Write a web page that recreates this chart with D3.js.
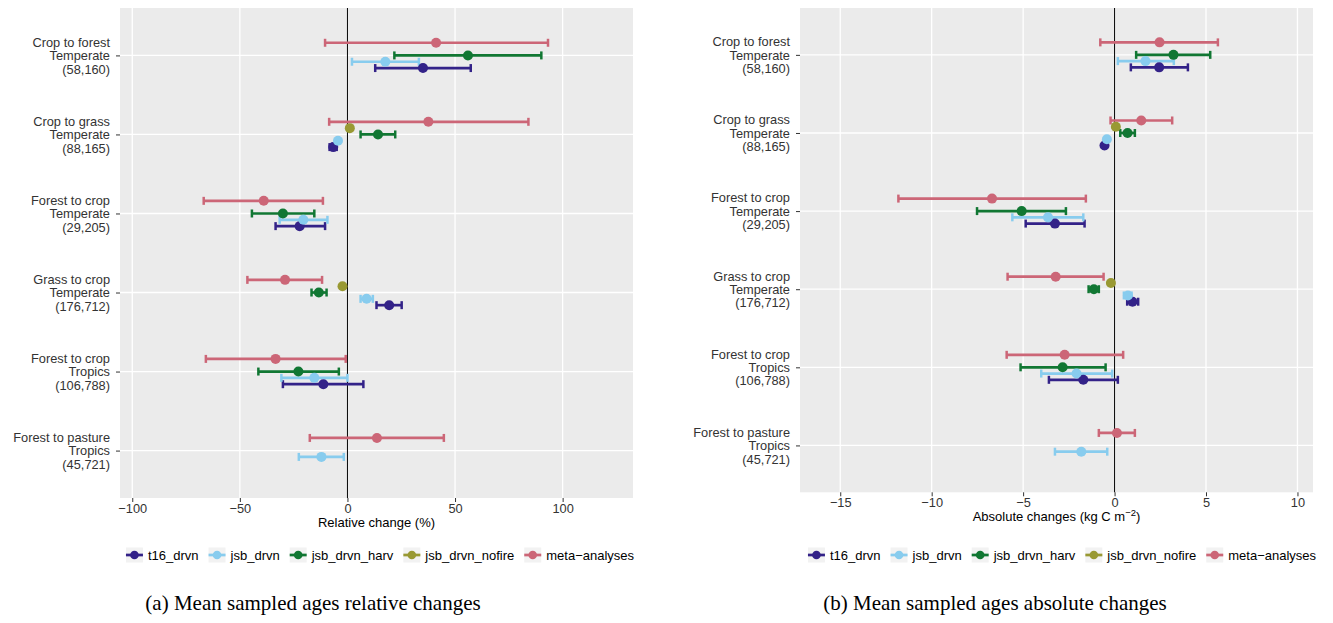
<!DOCTYPE html>
<html>
<head>
<meta charset="utf-8">
<script src="https://cdn.jsdelivr.net/npm/d3@7"></script>
<style>
  html, body { margin: 0; padding: 0; background: #fff; }
  svg { display: block; }
  text { font-family: "Liberation Sans", Arial, Helvetica, sans-serif; }
</style>
</head>
<body>
<svg id="chart" width="1333" height="623"></svg>
<script>
// ---------------- DATA ----------------
const categoryNames   = ["Crop to forest", "Crop to grass", "Forest to crop", "Grass to crop", "Forest to crop", "Forest to pasture"];
const categoryRegions = ["Temperate", "Temperate", "Temperate", "Temperate", "Tropics", "Tropics"];
const categoryCounts  = ["(58,160)", "(88,165)", "(29,205)", "(176,712)", "(106,788)", "(45,721)"];

const seriesNames  = ["t16_drvn", "jsb_drvn", "jsb_drvn_harv", "jsb_drvn_nofire", "meta-analyses"];
const seriesColors = ["#332288", "#88CCEE", "#117733", "#999933", "#CC6677"];

// Relative change (%)
const relT16Mean    = [35.1, -6.6, -22.2, 19.4, -11.2, null];
const relT16Lo      = [12.9, -8.3, -33.4, 13.5, -30.0, null];
const relT16Hi      = [57.3, -5.0, -10.4, 25.2, 7.4, null];
const relJsbMean    = [17.6, -4.4, -20.5, 8.9, -15.4, -12.1];
const relJsbLo      = [2.1, -4.4, -31.5, 6.1, -30.7, -22.6];
const relJsbHi      = [33.2, -4.4, -9.3, 11.8, 0.0, -1.7];
const relHarvMean   = [56.0, 14.2, -30.0, -13.3, -22.8, null];
const relHarvLo     = [21.8, 6.1, -44.4, -16.7, -41.4, null];
const relHarvHi     = [90.1, 22.2, -15.4, -9.7, -4.0, null];
const relNofireMean = [null, 1.1, null, -2.3, null, null];
const relMetaMean   = [41.2, 37.6, -38.9, -29.0, -33.4, 13.7];
const relMetaLo     = [-10.4, -8.5, -66.8, -46.5, -65.8, -17.5];
const relMetaHi     = [93.2, 84.1, -11.4, -11.8, -0.8, 44.8];

// Absolute changes (kg C m-2)
const absT16Mean    = [2.44, -0.55, -3.26, 0.98, -1.71, null];
const absT16Lo      = [0.89, -0.62, -4.86, 0.69, -3.59, null];
const absT16Hi      = [4.01, -0.48, -1.64, 1.29, 0.18, null];
const absJsbMean    = [1.69, -0.42, -3.64, 0.73, -2.08, -1.82];
const absJsbLo      = [0.18, -0.42, -5.59, 0.51, -4.01, -3.26];
const absJsbHi      = [3.24, -0.42, -1.71, 0.93, -0.13, -0.40];
const absHarvMean   = [3.22, 0.71, -5.08, -1.13, -2.84, null];
const absHarvLo     = [1.18, 0.31, -7.52, -1.42, -5.14, null];
const absHarvHi     = [5.23, 1.11, -2.66, -0.86, -0.49, null];
const absNofireMean = [null, 0.07, null, -0.20, null, null];
const absMetaMean   = [2.46, 1.46, -6.70, -3.22, -2.73, 0.13];
const absMetaLo     = [-0.78, -0.22, -11.82, -5.85, -5.90, -0.86];
const absMetaHi     = [5.65, 3.15, -1.57, -0.60, 0.47, 1.11];

const relTicks = [-100, -50, 0, 50, 100];
const absTicks = [-15, -10, -5, 0, 5, 10];

// ---------------- BUILD ----------------
function buildRows(means, los, his) {
  const rows = [];
  means.forEach((m, s) => {
    m.forEach((v, c) => {
      if (v === null) return;
      rows.push({
        series: seriesNames[s], color: seriesColors[s], cat: c,
        mean: v,
        lo: los[s] ? los[s][c] : null,
        hi: his[s] ? his[s][c] : null
      });
    });
  });
  return rows;
}

const relRows = buildRows(
  [relT16Mean, relJsbMean, relHarvMean, relNofireMean, relMetaMean],
  [relT16Lo, relJsbLo, relHarvLo, null, relMetaLo],
  [relT16Hi, relJsbHi, relHarvHi, null, relMetaHi]);
const absRows = buildRows(
  [absT16Mean, absJsbMean, absHarvMean, absNofireMean, absMetaMean],
  [absT16Lo, absJsbLo, absHarvLo, null, absMetaLo],
  [absT16Hi, absJsbHi, absHarvHi, null, absMetaHi]);

const svg = d3.select("#chart");
const fmtMinus = d => (d < 0 ? "\u2212" + Math.abs(d) : String(d));

const panels = [
  { x0: 120, x1: 633, y0: 8, y1: 498, domain: [-105.7, 132.7], ticks: relTicks, rows: relRows,
    title: "Relative change (%)", sup: null, legendCenter: 380,
    caption: "(a) Mean sampled ages relative changes", captionX: 313 },
  { x0: 800, x1: 1313, y0: 8, y1: 492.3, domain: [-17.2, 10.85], ticks: absTicks, rows: absRows,
    title: "Absolute changes (kg C m", sup: "\u22122", legendCenter: 1062,
    caption: "(b) Mean sampled ages absolute changes", captionX: 995 }
];

const dodgeOrder = ["meta-analyses", "jsb_drvn_nofire", "jsb_drvn_harv", "jsb_drvn", "t16_drvn"];

panels.forEach(p => {
  const g = svg.append("g");
  const x = d3.scaleLinear().domain(p.domain).range([p.x0, p.x1]);
  const y = d3.scalePoint().domain(d3.range(categoryNames.length)).range([p.y0, p.y1]).padding(0.6);
  const step = y.step();
  const dodge = d3.scaleBand().domain(dodgeOrder).range([-0.2 * step, 0.2 * step]);
  const yy = d => y(d.cat) + dodge(d.series) + dodge.bandwidth() / 2;

  // panel background
  g.append("rect").attr("x", p.x0).attr("y", p.y0)
    .attr("width", p.x1 - p.x0).attr("height", p.y1 - p.y0).attr("fill", "#EBEBEB");

  // grid
  g.selectAll(".vg").data(p.ticks).enter().append("line")
    .attr("x1", d => x(d)).attr("x2", d => x(d)).attr("y1", p.y0).attr("y2", p.y1)
    .attr("stroke", "#fff").attr("stroke-width", 1.3);
  g.selectAll(".hg").data(y.domain()).enter().append("line")
    .attr("x1", p.x0).attr("x2", p.x1).attr("y1", d => y(d)).attr("y2", d => y(d))
    .attr("stroke", "#fff").attr("stroke-width", 1.3);

  // zero line
  g.append("line").attr("x1", x(0)).attr("x2", x(0)).attr("y1", p.y0).attr("y2", p.y1)
    .attr("stroke", "#000").attr("stroke-width", 1);

  // x axis
  const xAxis = d3.axisBottom(x).tickValues(p.ticks).tickFormat(fmtMinus).tickSize(4).tickPadding(2);
  const xa = g.append("g").attr("transform", `translate(0,${p.y1})`).call(xAxis);
  xa.select(".domain").remove();
  xa.selectAll(".tick line").attr("stroke", "#333");
  xa.selectAll(".tick text").attr("fill", "#333").style("font-size", "12.8px")
    .style("font-family", '"Liberation Sans", Arial, sans-serif');

  // x title
  const tt = g.append("text").attr("x", (p.x0 + p.x1) / 2).attr("y", p.y1 + 29)
    .attr("text-anchor", "middle").attr("fill", "#000").style("font-size", "13px").text(p.title);
  if (p.sup) {
    tt.append("tspan").attr("dy", -5).style("font-size", "9.5px").text(p.sup);
    tt.append("tspan").attr("dy", 5).text(")");
  }

  // y axis (ticks + multi-line labels)
  const yAxis = d3.axisLeft(y).tickSize(4).tickPadding(7).tickFormat(() => "");
  const ya = g.append("g").attr("transform", `translate(${p.x0},0)`).call(yAxis);
  ya.select(".domain").remove();
  ya.selectAll(".tick line").attr("stroke", "#333");
  ya.selectAll(".tick").each(function (d) {
    const t = d3.select(this).select("text")
      .attr("x", -10).attr("dy", null).attr("y", 0)
      .attr("text-anchor", "end").attr("fill", "#333")
      .style("font-size", "12.8px")
      .style("font-family", '"Liberation Sans", Arial, sans-serif');
    t.text(null);
    const lines = [categoryNames[d], categoryRegions[d], categoryCounts[d]];
    lines.forEach((ln, i) => {
      t.append("tspan").attr("x", -10).attr("y", (i - 1) * 13.4 + 4.2).text(ln);
    });
  });

  // error bars
  const eb = p.rows.filter(d => d.lo !== null && d.hi !== null);
  const capH = 4;
  g.selectAll(".ebl").data(eb).enter().append("line")
    .attr("x1", d => x(d.lo)).attr("x2", d => x(d.hi))
    .attr("y1", yy).attr("y2", yy)
    .attr("stroke", d => d.color).attr("stroke-width", 2.7);
  g.selectAll(".ebc1").data(eb).enter().append("line")
    .attr("x1", d => x(d.lo)).attr("x2", d => x(d.lo))
    .attr("y1", d => yy(d) - capH).attr("y2", d => yy(d) + capH)
    .attr("stroke", d => d.color).attr("stroke-width", 2.5);
  g.selectAll(".ebc2").data(eb).enter().append("line")
    .attr("x1", d => x(d.hi)).attr("x2", d => x(d.hi))
    .attr("y1", d => yy(d) - capH).attr("y2", d => yy(d) + capH)
    .attr("stroke", d => d.color).attr("stroke-width", 2.5);

  // points
  g.selectAll(".pt").data(p.rows).enter().append("circle")
    .attr("cx", d => x(d.mean)).attr("cy", yy).attr("r", 5)
    .attr("fill", d => d.color);

  // legend
  const lg = g.append("g").attr("transform", `translate(0,555)`);
  const items = [];
  seriesNames.forEach((nm, i) => {
    const it = lg.append("g");
    it.append("rect").attr("x", 0).attr("y", -7.5).attr("width", 17).attr("height", 15).attr("fill", "#F2F2F2");
    it.append("line").attr("x1", 0).attr("x2", 17).attr("y1", 0).attr("y2", 0)
      .attr("stroke", seriesColors[i]).attr("stroke-width", 2.7);
    it.append("circle").attr("cx", 8.5).attr("cy", 0).attr("r", 4.3).attr("fill", seriesColors[i]);
    const tx = it.append("text").attr("x", 22).attr("y", 4.5).style("font-size", "13px")
      .attr("fill", "#000").text(nm.replace("-", "\u2212"));
    items.push({ g: it, w: 22 + tx.node().getComputedTextLength() });
  });
  const gap = 10;
  const total = d3.sum(items, d => d.w) + gap * (items.length - 1);
  let cx = p.legendCenter - total / 2;
  items.forEach(it => { it.g.attr("transform", `translate(${cx},0)`); cx += it.w + gap; });

  // caption
  svg.append("text").attr("x", p.captionX).attr("y", 610).attr("text-anchor", "middle")
    .style("font-family", '"Liberation Serif", "Times New Roman", serif')
    .style("font-size", "21px").attr("fill", "#000").text(p.caption);
});
</script>
</body>
</html>
